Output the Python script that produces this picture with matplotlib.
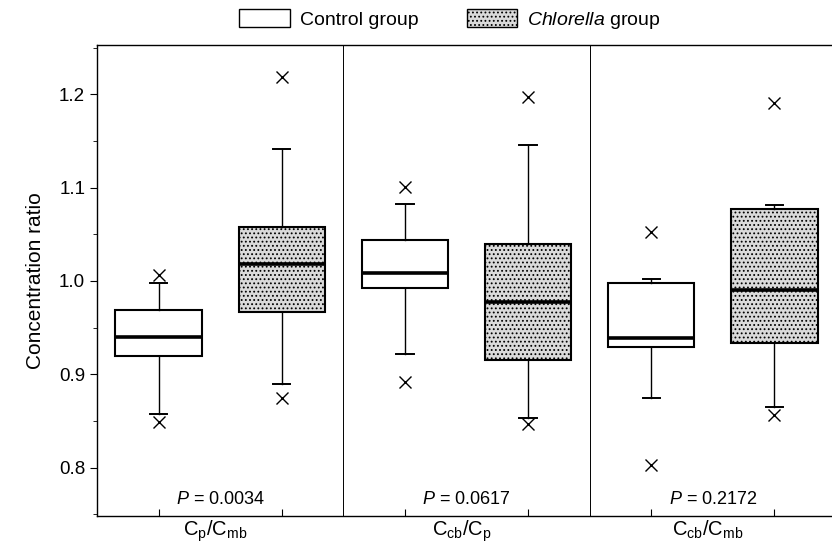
import matplotlib
matplotlib.use("Agg")
import matplotlib.pyplot as plt
from matplotlib.patches import Patch
from matplotlib.ticker import MultipleLocator

plt.rcParams['font.family'] = ['Liberation Sans', 'DejaVu Sans']
plt.rcParams['mathtext.fontset'] = 'custom'
plt.rcParams['mathtext.rm'] = 'Liberation Sans'
plt.rcParams['mathtext.it'] = 'Liberation Sans:italic'
plt.rcParams['hatch.color'] = '#a8a8a8'
plt.rcParams['hatch.linewidth'] = 0.8

# data
categories = [r'C$_\mathrm{p}$/C$_\mathrm{mb}$', r'C$_\mathrm{cb}$/C$_\mathrm{p}$',
              r'C$_\mathrm{cb}$/C$_\mathrm{mb}$']
p_values = ['0.0034', '0.0617', '0.2172']

# control group: [whislo, q1, med, q3, whishi], outliers
control_stats = [[0.857, 0.920, 0.940, 0.969, 0.998],
                 [0.922, 0.992, 1.009, 1.044, 1.083],
                 [0.875, 0.929, 0.939, 0.998, 1.002]]
control_out = [[0.849, 1.006], [0.892, 1.101], [0.803, 1.053]]

# chlorella group
chlorella_stats = [[0.890, 0.967, 1.018, 1.058, 1.142],
                   [0.853, 0.915, 0.977, 1.040, 1.146],
                   [0.865, 0.934, 0.990, 1.077, 1.081]]
chlorella_out = [[0.874, 1.219], [0.847, 1.197], [0.856, 1.191]]


def make_stats(rows, outs):
    res = []
    for r, o in zip(rows, outs):
        res.append(dict(whislo=r[0], q1=r[1], med=r[2], q3=r[3], whishi=r[4], fliers=o))
    return res


fig = plt.figure(figsize=(8.32, 5.46), dpi=100)
ax = fig.add_axes([97/832, 1-516/546, 739/832, 471/546])

pos_c = [i - 0.25 for i in range(len(categories))]
pos_h = [i + 0.25 for i in range(len(categories))]

common = dict(widths=0.35, patch_artist=True, capwidths=0.07,
              medianprops=dict(color='k', lw=2.6),
              whiskerprops=dict(color='k', lw=1.0),
              capprops=dict(color='k', lw=1.4),
              flierprops=dict(marker='x', ms=8, mec='k', mew=1.0))

bc = ax.bxp(make_stats(control_stats, control_out), positions=pos_c,
            boxprops=dict(facecolor='white', edgecolor='k', lw=1.5), **common)
bh = ax.bxp(make_stats(chlorella_stats, chlorella_out), positions=pos_h,
            boxprops=dict(facecolor='#dadada', edgecolor='k', lw=1.5), **common)
for b in bh['boxes']:
    b.set_hatch('....')

for xd in [0.5, 1.5]:
    ax.axvline(xd, color='k', lw=0.7)

for i, p in enumerate(p_values):
    ax.text(i, 0.757, f'$\\it{{P}}$ = {p}', ha='center', va='bottom', fontsize=13)

ax.set_xlim(-0.5, 2.5)
ax.set_ylim(0.748, 1.253)
ax.set_xticks(pos_c + pos_h)
ax.set_xticklabels([])
ax.tick_params(axis='x', direction='in', length=5)
for i, c in enumerate(categories):
    ax.text(i - 0.02, -0.006, c, transform=ax.get_xaxis_transform(), ha='center', va='top',
            fontsize=14.5)

ax.yaxis.set_major_locator(MultipleLocator(0.1))
ax.yaxis.set_minor_locator(MultipleLocator(0.05))
ax.set_yticks([0.8, 0.9, 1.0, 1.1, 1.2])
ax.tick_params(axis='y', which='major', direction='out', length=5, labelsize=13.5)
ax.tick_params(axis='y', which='minor', direction='out', length=3)
ax.set_ylabel('Concentration ratio', fontsize=15, labelpad=10)

for s in ax.spines.values():
    s.set_linewidth(1.0)

handles = [Patch(facecolor='white', edgecolor='k', lw=1.0),
           Patch(facecolor='#dadada', edgecolor='k', lw=1.0, hatch='....')]
fig.legend(handles, ['Control group', r'$\it{Chlorella}$ group'], ncol=2,
           loc='center', bbox_to_anchor=(450/832, 1-20/546), frameon=False,
           fontsize=14, handlelength=2.6, handleheight=1.0, columnspacing=2.5,
           handletextpad=0.5)

fig.savefig('out.png', dpi=100)
